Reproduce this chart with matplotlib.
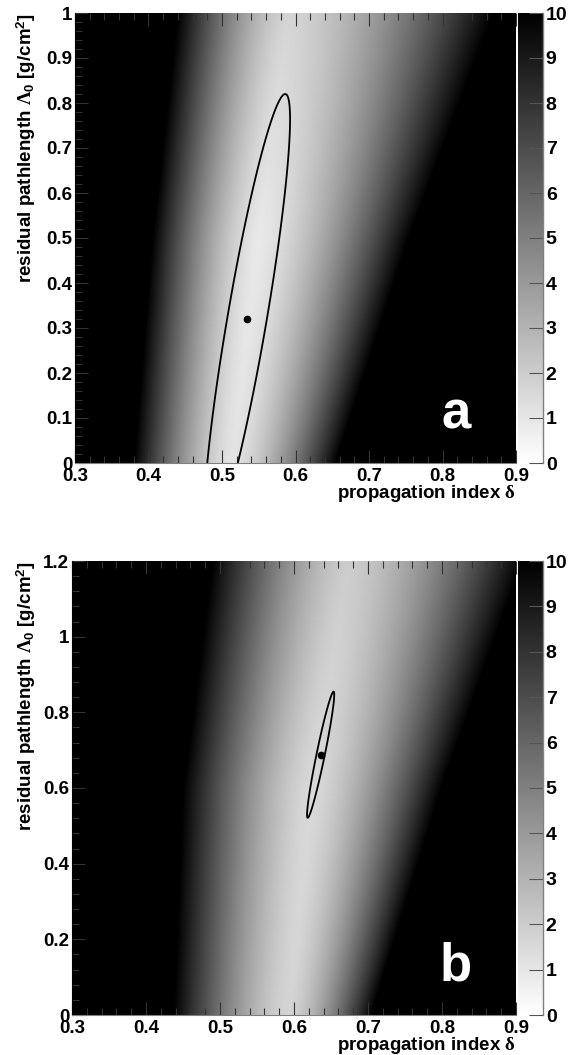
import numpy as np
import matplotlib
matplotlib.use("Agg")
import matplotlib.pyplot as plt
from matplotlib.ticker import MultipleLocator, FuncFormatter

# chi2 valley of each map, sampled at a few pathlength values:
# valley centre, valley floor, and where chi2 reaches the top of the scale
lam_a = [0.0, 0.5, 1.0]
centre_a = [0.514, 0.550, 0.591]
floor_a = [1.1, 0.9, 1.7]
edge_lo_a = [0.380, 0.405, 0.440]
edge_hi_a = [0.655, 0.755, 0.870]

lam_b = [0.0, 0.6, 1.2]
centre_b = [0.592, 0.625, 0.675]
floor_b = [1.7, 1.5, 2.0]
edge_lo_b = [0.437, 0.450, 0.490]
edge_hi_b = [0.705, 0.800, 0.910]

# best fit (delta, Lambda0), 1-sigma errors and correlation
fit_a = [0.534, 0.320]
err_a = [0.0586, 0.50]
rho_a = 0.887

fit_b = [0.636, 0.688]
err_b = [0.0184, 0.167]
rho_b = 0.951

delta_range = [0.3, 0.9]
lam_top = {"a": 1.0, "b": 1.2}
lam_step = {"a": 0.1, "b": 0.2}
z_ticks = list(range(0, 11))

plt.rcParams["font.family"] = "Liberation Sans"
plt.rcParams["font.weight"] = "bold"
plt.rcParams["axes.labelweight"] = "bold"
plt.rcParams["mathtext.fontset"] = "custom"
plt.rcParams["mathtext.rm"] = "Liberation Serif"
plt.rcParams["mathtext.it"] = "Liberation Serif"
plt.rcParams["mathtext.bf"] = "Liberation Sans:bold"

FS = 13.5
W, H = 579, 1055


def chi2_map(d, lam, lam_k, centre, floor, lo, hi):
    c = np.interp(lam, lam_k, centre)
    m = np.interp(lam, lam_k, floor)
    left = np.interp(lam, lam_k, lo)
    right = np.interp(lam, lam_k, hi)
    u = np.where(d < c, (c - d) / (c - left), (d - c) / (right - c))
    return m + (z_ticks[-1] - m) * u ** 1.5


def delta_chi2(d, lam, fit, err, rho):
    x = (d - fit[0]) / err[0]
    y = (lam - fit[1]) / err[1]
    return (x * x - 2 * rho * x * y + y * y) / (1 - rho * rho)


def px_rect(left, right, top, bottom):
    return [left / W, 1 - bottom / H, (right - left) / W, (bottom - top) / H]


def draw_panel(fig, box, tag, lam_k, centre, floor, lo, hi, fit, err, rho):
    left, right, top, bottom = box
    ax = fig.add_axes(px_rect(left, right, top, bottom))
    cax = fig.add_axes(px_rect(right + 2, right + 27, top, bottom))
    ytop = lam_top[tag]

    d = np.linspace(delta_range[0], delta_range[1], 700)
    lam = np.linspace(0, ytop, 700)
    D, L = np.meshgrid(d, lam)

    z = chi2_map(D, L, lam_k, centre, floor, lo, hi)
    im = ax.imshow(z, origin="lower", extent=[*delta_range, 0, ytop],
                   aspect="auto", cmap="gray_r", vmin=z_ticks[0], vmax=z_ticks[-1],
                   interpolation="bilinear")
    ax.contour(D, L, delta_chi2(D, L, fit, err, rho), levels=[1.0],
               colors="black", linewidths=1.3)
    ax.plot(fit[0], fit[1], "o", color="black", ms=4.5)

    ax.set_xlim(*delta_range)
    ax.set_ylim(0, ytop)
    fmt = FuncFormatter(lambda v, _: f"{v:g}")
    ax.xaxis.set_major_locator(MultipleLocator(0.1))
    ax.xaxis.set_minor_locator(MultipleLocator(0.02))
    ax.yaxis.set_major_locator(MultipleLocator(lam_step[tag]))
    ax.yaxis.set_minor_locator(MultipleLocator(lam_step[tag] / 5))
    ax.xaxis.set_major_formatter(fmt)
    ax.yaxis.set_major_formatter(fmt)
    ax.tick_params(which="both", direction="in", top=True, color="#333333",
                   width=0.8, labelsize=FS)
    ax.tick_params(which="major", length=9.5)
    ax.tick_params(which="minor", length=5)
    ax.tick_params(axis="x", pad=3.5)
    ax.tick_params(axis="y", pad=2)
    for side in ("top", "right"):
        ax.spines[side].set_visible(False)
    ax.spines["left"].set_color("black")
    ax.spines["bottom"].set_color("#808080")

    ax.set_xlabel(r"propagation index $\delta$", fontsize=13.5, ha="right", va="top")
    ax.xaxis.set_label_coords(1.0, -20 / (bottom - top))
    ax.set_ylabel(r"residual pathlength $\Lambda_{\mathbf{0}}$ [g/cm$^{\mathbf{2}}$]",
                  fontsize=13.5, loc="top")
    ax.yaxis.set_label_coords(-(left - 38) / (right - left), 1.0)

    ax.text(0.865, 0.107, tag, transform=ax.transAxes, color="white",
            fontsize=38, fontweight="bold", ha="center", va="center")

    cb = fig.colorbar(im, cax=cax, ticks=z_ticks)
    cb.outline.set_visible(False)
    cax.tick_params(direction="in", length=10, width=0.8, color="#555555",
                    pad=2, labelsize=14)
    cax.plot([1, 1], [0, 1], transform=cax.transAxes, color="#808080",
             lw=1.0, clip_on=False)
    return ax


fig = plt.figure(figsize=(W / 100, H / 100), dpi=100)
draw_panel(fig, (75, 516, 13, 463), "a", lam_a, centre_a, floor_a,
           edge_lo_a, edge_hi_a, fit_a, err_a, rho_a)
draw_panel(fig, (72, 516, 561, 1015), "b", lam_b, centre_b, floor_b,
           edge_lo_b, edge_hi_b, fit_b, err_b, rho_b)
fig.savefig("out.png", dpi=100)
